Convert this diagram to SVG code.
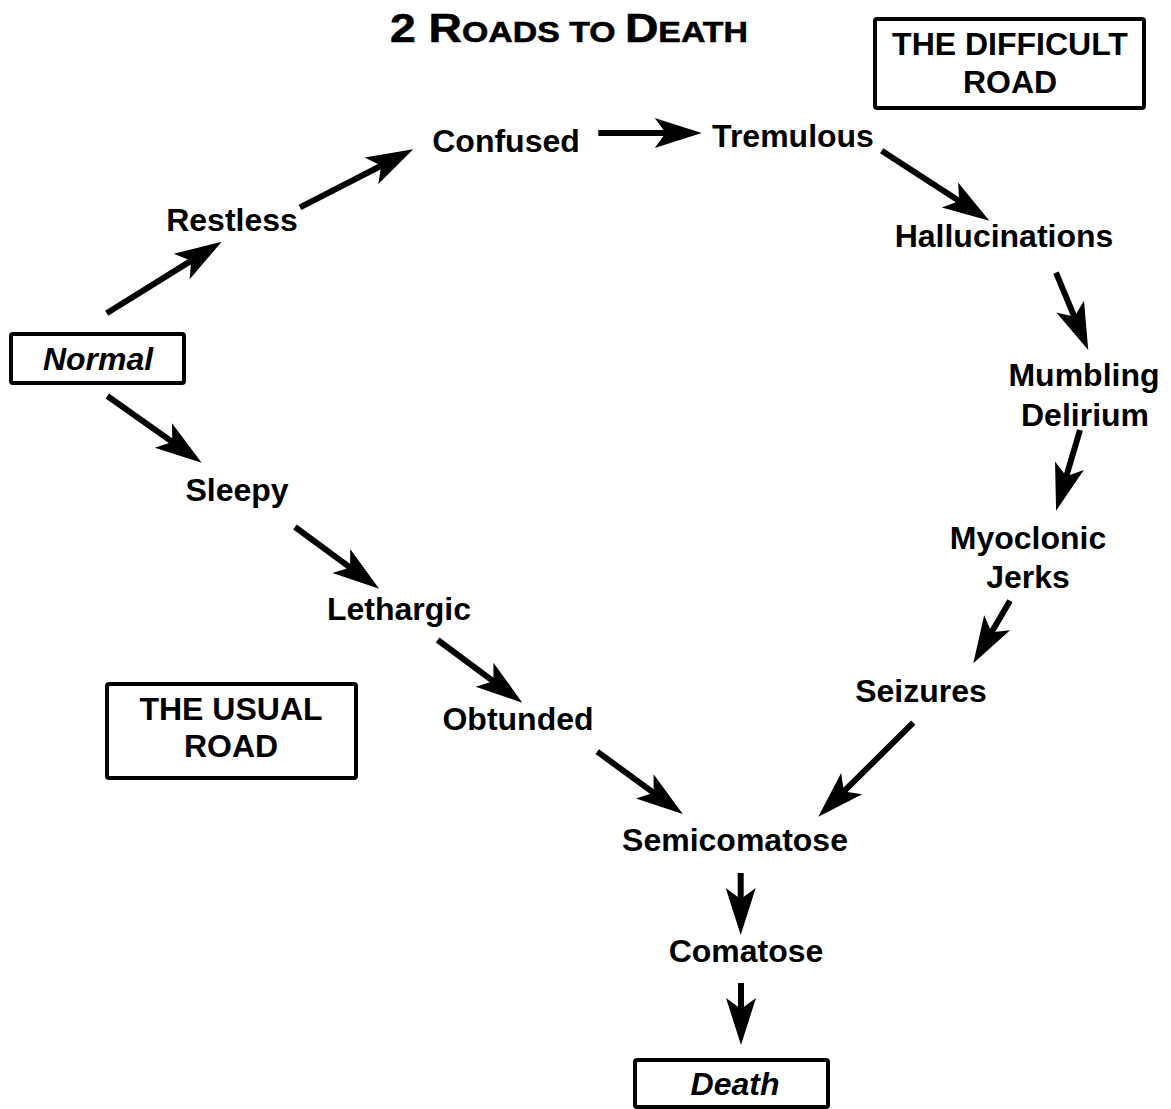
<svg xmlns="http://www.w3.org/2000/svg" width="1171" height="1109" viewBox="0 0 1171 1109">
<style>
text{font-family:"Liberation Sans",Arial,sans-serif;font-weight:bold;font-size:32px;fill:#000;text-anchor:middle}
.it{font-style:italic}
.box{fill:#fff;stroke:#000;stroke-width:4}
.conn line{stroke:#000;stroke-width:6;marker-end:url(#ah)}
</style>
<defs>
<marker id="ah" viewBox="0 0 50 32" markerWidth="50" markerHeight="32" refX="20" refY="16" orient="auto" markerUnits="userSpaceOnUse">
<path d="M50,16 L3,1 L14,16 L3,31 Z" fill="#000"/>
</marker>
</defs>
<rect width="1171" height="1109" fill="#fff"/>
<text id="title" x="390" y="42" style="text-anchor:start;stroke:#000;stroke-width:0.6" textLength="358" lengthAdjust="spacingAndGlyphs"><tspan font-size="41">2 R</tspan><tspan font-size="30">OADS TO </tspan><tspan font-size="41">D</tspan><tspan font-size="30">EATH</tspan></text>
<g id="label-difficult"><rect class="box" x="875" y="19" width="269" height="89" rx="2"/><text x="1010" y="55">THE DIFFICULT</text><text x="1010" y="93">ROAD</text></g>
<g id="label-usual"><rect class="box" x="107" y="684" width="249" height="94" rx="2"/><text x="231" y="720">THE USUAL</text><text x="231" y="757">ROAD</text></g>
<g id="normal"><rect class="box" x="11" y="334" width="173" height="49" rx="2"/><text class="it" x="98" y="370">Normal</text></g>
<g id="restless"><text x="232" y="231">Restless</text></g>
<g id="confused"><text x="506" y="152">Confused</text></g>
<g id="tremulous"><text x="793" y="147">Tremulous</text></g>
<g id="hallucinations"><text x="1004" y="247">Hallucinations</text></g>
<g id="mumbling"><text x="1084" y="386">Mumbling</text><text x="1085" y="426">Delirium</text></g>
<g id="myoclonic"><text x="1028" y="549">Myoclonic</text><text x="1028" y="588">Jerks</text></g>
<g id="seizures"><text x="921" y="702">Seizures</text></g>
<g id="sleepy"><text x="237" y="501">Sleepy</text></g>
<g id="lethargic"><text x="399" y="620">Lethargic</text></g>
<g id="obtunded"><text x="518" y="730">Obtunded</text></g>
<g id="semicomatose"><text x="735" y="851">Semicomatose</text></g>
<g id="comatose"><text x="746" y="962">Comatose</text></g>
<g id="death"><rect class="box" x="635" y="1060" width="193" height="47" rx="2"/><text class="it" x="735" y="1095">Death</text></g>
<g class="conn" id="connectors">
<line x1="106.7" y1="313.3" x2="196.2" y2="257.6"/>
<line x1="300" y1="207.3" x2="386.6" y2="163"/>
<line x1="598.3" y1="133" x2="671.7" y2="133"/>
<line x1="881.7" y1="150.7" x2="964.2" y2="204.3"/>
<line x1="1056" y1="272.7" x2="1076.7" y2="322.3"/>
<line x1="1080" y1="430" x2="1064.6" y2="482"/>
<line x1="1010" y1="600.7" x2="988.5" y2="637.4"/>
<line x1="913.3" y1="722.7" x2="839.6" y2="795.6"/>
<line x1="107.3" y1="396" x2="177.2" y2="445.4"/>
<line x1="295" y1="527" x2="355" y2="571.1"/>
<line x1="437.7" y1="640" x2="498.2" y2="684.8"/>
<line x1="597.3" y1="751.7" x2="658.5" y2="796.3"/>
<line x1="740.7" y1="873" x2="740.7" y2="905"/>
<line x1="741" y1="983" x2="741" y2="1015"/>
</g>
</svg>
